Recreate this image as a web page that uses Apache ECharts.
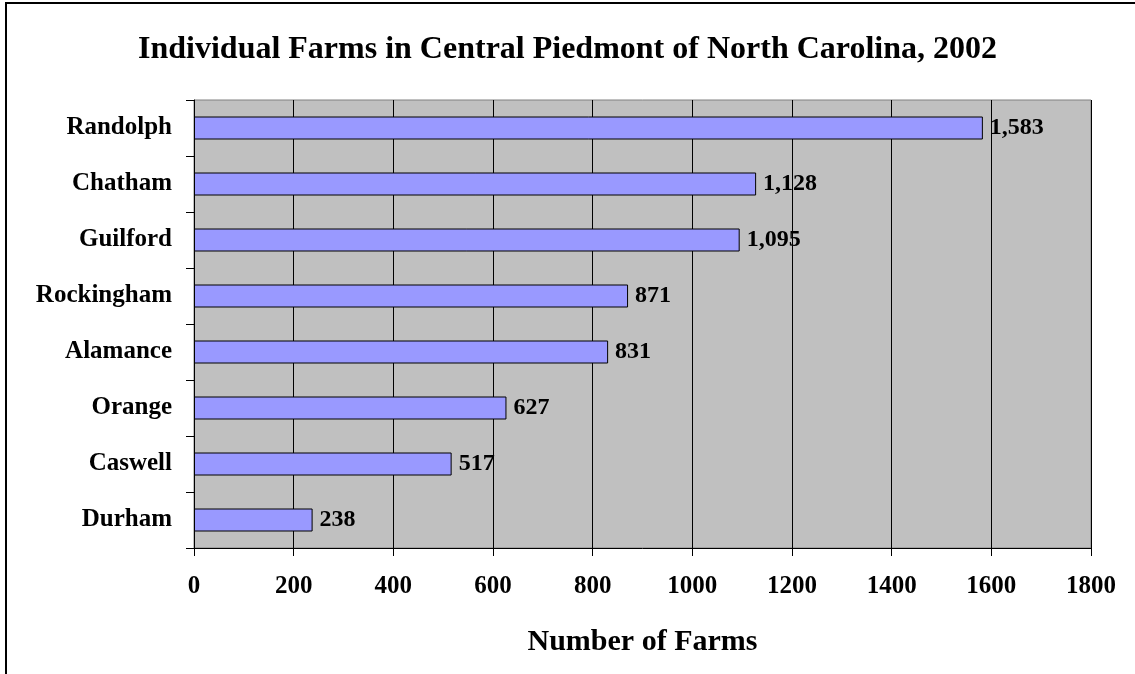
<!DOCTYPE html>
<html>
<head>
<meta charset="utf-8">
<title>Individual Farms in Central Piedmont of North Carolina, 2002</title>
<script src="https://cdn.jsdelivr.net/npm/echarts@6/dist/echarts.min.js"></script>
<style>
  html, body { margin: 0; padding: 0; background: #ffffff; }
  #chart { width: 1135px; height: 674px; }
</style>
</head>
<body>
<div id="chart"></div>
<script>
// Counties, listed top to bottom
var counties = ['Randolph', 'Chatham', 'Guilford', 'Rockingham', 'Alamance', 'Orange', 'Caswell', 'Durham'];
// Number of individual farms per county, 2002
var farms = [1583, 1128, 1095, 871, 831, 627, 517, 238];
// Value axis ticks
var xTicks = [0, 200, 400, 600, 800, 1000, 1200, 1400, 1600, 1800];

var serif = '"Liberation Serif", "Times New Roman", serif';

var chart = echarts.init(document.getElementById('chart'), null, { renderer: 'canvas' });

chart.setOption({
  backgroundColor: '#ffffff',
  animation: false,
  title: {
    text: 'Individual Farms in Central Piedmont of North Carolina, 2002',
    left: 'center',
    top: 29,
    textStyle: { fontFamily: serif, fontWeight: 'bold', fontSize: 32, color: '#000' }
  },
  graphic: [{
    type: 'rect',
    silent: true,
    z: -1,
    shape: { x: 6, y: 3, width: 1200, height: 800 },
    style: { fill: 'none', stroke: '#000', lineWidth: 2 }
  }],
  grid: {
    left: 194, right: 44, top: 100, bottom: 126,
    show: true,
    backgroundColor: '#c0c0c0',
    borderColor: '#808080',
    borderWidth: 1
  },
  xAxis: {
    type: 'value',
    min: xTicks[0],
    max: xTicks[xTicks.length - 1],
    interval: xTicks[1] - xTicks[0],
    name: 'Number of Farms',
    nameLocation: 'middle',
    nameGap: 79,
    nameTextStyle: { fontFamily: serif, fontWeight: 'bold', fontSize: 30, color: '#000' },
    axisLine: { show: true, lineStyle: { color: '#000', width: 1 } },
    axisTick: { show: true, length: 8, lineStyle: { color: '#000' } },
    axisLabel: {
      margin: 26, fontFamily: serif, fontWeight: 'bold', fontSize: 25, color: '#000',
      formatter: function (v) { return String(v); }
    },
    splitLine: { show: true, lineStyle: { color: '#000', width: 1 } }
  },
  yAxis: {
    type: 'category',
    data: counties,
    inverse: true,
    axisLine: { show: true, lineStyle: { color: '#000', width: 1 } },
    axisTick: { show: true, length: 8, alignWithLabel: false, lineStyle: { color: '#000' } },
    axisLabel: { margin: 22, fontFamily: serif, fontWeight: 'bold', fontSize: 25, color: '#000' },
    splitLine: { show: false }
  },
  series: [{
    type: 'bar',
    data: farms,
    barWidth: 23,
    itemStyle: { color: '#9999ff', borderColor: '#000', borderWidth: 1 },
    label: {
      show: true,
      position: 'right',
      distance: 7,
      fontFamily: serif,
      fontWeight: 'bold',
      fontSize: 24,
      color: '#000',
      formatter: function (p) { return p.value.toLocaleString('en-US'); }
    }
  }]
});
</script>
</body>
</html>
